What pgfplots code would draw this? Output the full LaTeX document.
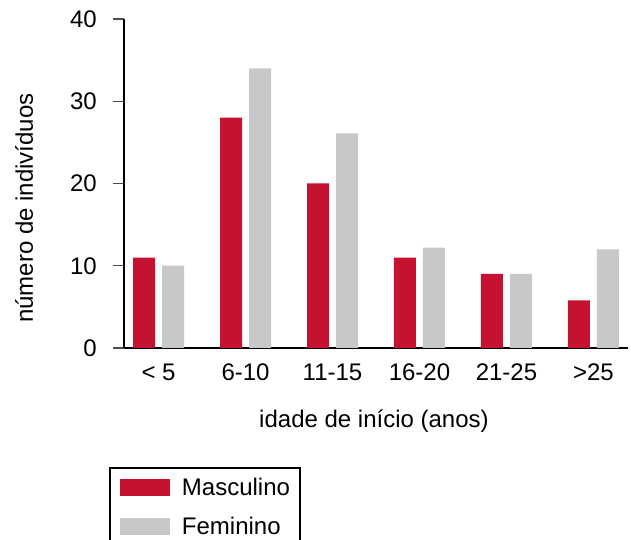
\documentclass[border=0pt]{standalone}
\usepackage{pgfplots}
\pgfplotsset{compat=1.18}
\usepackage{fontspec}
\setmainfont{Liberation Sans}
\definecolor{masc}{RGB}{196,18,48}
\definecolor{fem}{RGB}{199,200,202}
\begin{document}
\begin{tikzpicture}
\useasboundingbox (0,0) rectangle (631bp,540bp);
\begin{axis}[
  at={(124bp,192bp)}, anchor=south west,
  scale only axis, width=504bp, height=329bp,
  xmin=-0.397, xmax=5.397, ymin=0, ymax=40,
  axis lines*=left,
  axis line style={-, line width=1.4bp, black},
  xtick={0,1,2,3,4,5},
  xticklabels={{< 5},{6-10},{11-15},{16-20},{21-25},{>25}},
  ytick={0,10,20,30,40},
  /pgf/number format/assume math mode=true,
  font=\fontsize{24bp}{28bp}\selectfont,
  xtick style={draw=none},
  ytick style={line width=1.4bp, color=black!70},
  tick align=outside,
  major tick length=11bp,
  xticklabel style={anchor=base, inner sep=0pt, yshift=-21bp},
  yticklabel style={anchor=east, inner sep=0pt, xshift=-16bp},
  xlabel={idade de início (anos)},
  ylabel={número de indivíduos},
  xlabel style={at={(axis description cs:0.496,0)}, anchor=base, yshift=-79bp, inner sep=0pt},
  ylabel style={at={(axis description cs:-0.1806,0.4255)}, anchor=base, inner sep=0pt},
  legend style={at={(axis description cs:-0.0298,-0.3617)}, anchor=north west,
    draw=black, line width=2bp, fill=white,
    inner xsep=10bp, inner ysep=11bp,
    nodes={inner sep=0pt, text height=17bp, text depth=3bp},
    column sep=12bp, row sep=19bp,
    /tikz/every even column/.append style={yshift=4bp},
    font=\fontsize{24bp}{28bp}\selectfont},
  legend cell align=left,
  legend image code/.code={\fill[#1] (0bp,-3bp) rectangle (50bp,14bp);},
]
\addplot[ybar, bar width=22bp, bar shift=-14.5bp, fill=masc, draw=none]
  coordinates {(0,11) (1,28) (2,20) (3,11) (4,9) (5,5.8)};
\addlegendentry{Masculino}
\addplot[ybar, bar width=22bp, bar shift=14.5bp, fill=fem, draw=none]
  coordinates {(0,10) (1,34) (2,26.1) (3,12.2) (4,9) (5,12)};
\addlegendentry{Feminino}
\end{axis}
\end{tikzpicture}
\end{document}
